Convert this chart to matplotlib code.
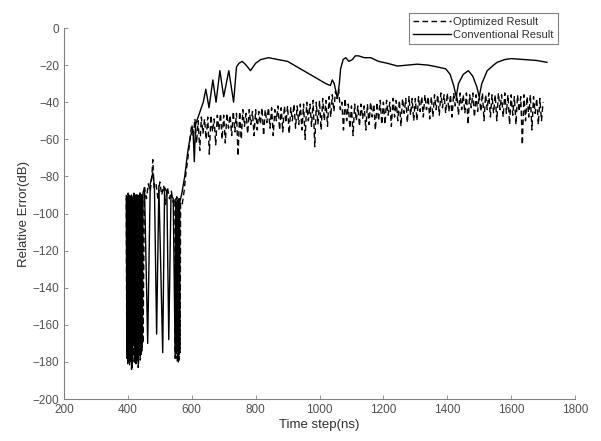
import numpy as np
import matplotlib
matplotlib.use('Agg')
import matplotlib.pyplot as plt

plt.rcParams['font.family'] = ['Liberation Sans', 'DejaVu Sans']

# Conventional result (solid line)
conv_t = [395, 397, 399, 401, 403, 405, 407, 409, 411, 413, 415, 417, 419, 421,
          423, 425, 427, 429, 431, 433, 435, 437, 439, 441, 443, 445, 447,
          452, 462, 470, 478, 483, 490, 497, 509, 515, 522, 528, 535, 542, 548,
          550, 553, 555, 558, 560, 562, 568, 578, 588, 596, 604, 608, 612, 620,
          628, 636, 644, 654, 666, 676, 688, 700, 716, 731, 740, 748, 758, 770,
          784, 800, 816, 840, 870, 900, 930, 960, 990, 1020, 1034, 1040, 1046,
          1056, 1062, 1066, 1074, 1082, 1092, 1103, 1112, 1122, 1140, 1160, 1185,
          1212, 1244, 1275, 1306, 1340, 1369, 1395, 1409, 1420, 1428, 1435, 1450,
          1466, 1480, 1493, 1500, 1508, 1525, 1545, 1556, 1580, 1600, 1640, 1680,
          1712]
conv_db = [-92, -175, -91, -180, -90, -172, -93, -178, -90, -183, -92, -170, -89,
           -179, -91, -181, -90, -176, -92, -181, -91, -168, -89, -176, -90, -172,
           -89,
           -86, -170, -84, -78, -85, -165, -85, -175, -86, -88, -168, -90, -92, -178,
           -92, -174, -93, -180, -92, -94, -90, -80, -66, -58, -55, -72, -52, -48,
           -44, -40, -33, -43, -28, -40, -23, -37, -23, -40, -21, -19, -18, -20,
           -23, -19, -17, -16, -17, -18, -21, -24, -27, -30, -31, -28, -30,
           -38, -30, -22, -17, -16, -18, -17, -15, -15, -16, -16, -18,
           -19, -20.5, -20, -19.5, -20, -21, -22, -25, -31, -37, -30, -25,
           -23, -26, -32, -37, -30, -23, -20, -18.5, -17, -16.5, -17, -17.5,
           -18.5]

# Optimized result (dashed line): burst part
opt_burst_t = [395, 396.5, 398, 399.5, 401, 402.5, 404, 405.5, 407, 408.5, 410,
               411.5, 413, 414.5, 416, 417.5, 419, 420.5, 422, 423.5, 425, 426.5,
               428, 429.5, 431, 432.5, 434, 435.5, 437, 438.5, 440, 441.5, 443,
               444.5, 446, 447.5,
               452, 458, 464, 470, 475, 478, 482, 488, 494, 500, 506, 512, 518,
               524, 530, 536, 542, 547, 548.5, 550, 551.5, 553, 554.5, 556, 557.5,
               559, 560.5, 562, 563.5, 565,
               570, 576, 582, 588, 593, 597]
opt_burst_db = [-90, -178, -91, -181, -89, -176, -92, -182, -90, -179, -91,
                -184, -90, -180, -92, -177, -89, -181, -91, -178, -90, -175,
                -92, -180, -90, -183, -91, -177, -89, -179, -92, -176, -90,
                -174, -91, -170,
                -86, -92, -84, -88, -80, -71, -86, -84, -92, -83, -90, -85, -95,
                -86, -92, -88, -94, -92, -178, -93, -176, -91, -180, -92, -177,
                -93, -179, -92, -175, -94,
                -95, -88, -78, -70, -62, -56]

# Optimized result: steady part, 5 ns steps from 600 to 1700
opt_t = np.arange(600, 1701, 5)
opt_db = [-52, -58, -49, -62, -50, -66, -48, -57, -49, -60,
          -48, -68, -47, -56, -49, -63, -47, -55, -46, -60,
          -47, -62, -46, -54, -47, -58, -45, -56, -46, -69,
          -45, -60, -44, -53, -46, -57, -44, -52, -45, -58,
          -44, -55, -45, -52, -43, -58, -44, -51, -43, -54,
          -43, -58, -44, -50, -42, -55, -43, -56, -42, -51,
          -42, -57, -43, -50, -41, -54, -42, -52, -41, -55,
          -41, -60, -40, -50, -41, -53, -39, -64, -40, -52,
          -39, -55, -38, -50, -39, -53, -37, -48, -36, -45,
          -34, -38, -33, -44, -40, -55, -38, -50, -41, -54,
          -42, -58, -41, -50, -42, -53, -41, -49, -42, -55,
          -41, -52, -40, -48, -41, -55, -40, -50, -39, -52,
          -40, -52, -39, -47, -40, -53, -38, -48, -39, -50,
          -39, -53, -38, -46, -38, -51, -37, -47, -38, -50,
          -38, -50, -37, -45, -37, -48, -36, -44, -37, -49,
          -37, -48, -36, -44, -36, -47, -35, -43, -36, -46,
          -35, -45, -36, -48, -35, -42, -36, -47, -35, -44,
          -36, -46, -35, -52, -36, -43, -35, -48, -36, -45,
          -36, -45, -35, -50, -36, -44, -35, -48, -36, -46,
          -36, -50, -35, -44, -36, -48, -35, -46, -36, -52,
          -36, -47, -37, -52, -36, -45, -37, -63, -36, -50,
          -37, -48, -36, -55, -37, -46, -38, -52, -38, -50,
          -40]

opt_all_t = list(opt_burst_t) + list(opt_t)
opt_all_db = list(opt_burst_db) + list(opt_db)

fig = plt.figure(figsize=(6.01, 4.41), dpi=100)
ax = fig.add_axes([0.1065, 0.0952, 0.8503, 0.8413])

ax.plot(opt_all_t, opt_all_db, color='black', lw=1.0, dashes=(4, 2.5),
        label='Optimized Result')
ax.plot(conv_t, conv_db, color='black', lw=1.0, label='Conventional Result')

ax.set_xlim(200, 1800)
ax.set_ylim(-200, 0)
ax.set_xticks(range(200, 1801, 200))
ax.set_yticks(range(-200, 1, 20))

for s in ['top', 'right']:
    ax.spines[s].set_visible(False)
for s in ['left', 'bottom']:
    ax.spines[s].set_color('#808080')
    ax.spines[s].set_linewidth(0.8)
ax.tick_params(direction='in', length=3, width=0.6, colors='#808080',
               labelcolor='#505050', labelsize=8.5)

ax.set_xlabel('Time step(ns)', fontsize=9.5, color='#303030', labelpad=2)
ax.set_ylabel('Relative Error(dB)', fontsize=9.5, color='#303030', labelpad=2)

leg = ax.legend(loc='upper right', bbox_to_anchor=(0.937, 0.982),
                bbox_transform=fig.transFigure, fontsize=8, frameon=True,
                fancybox=False, handlelength=3.4, borderpad=0.35,
                labelspacing=0.25, handletextpad=0.2)
leg.get_frame().set_edgecolor('#606060')
leg.get_frame().set_linewidth(0.8)
for txt in leg.get_texts():
    txt.set_color('#303030')

fig.savefig('out.png', dpi=100)
